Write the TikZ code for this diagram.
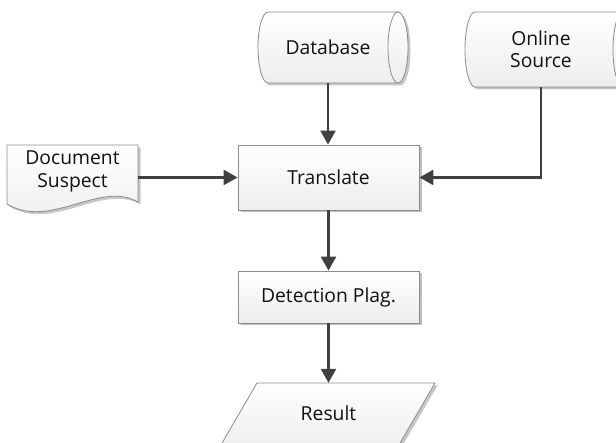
\documentclass[tikz,border=0pt]{standalone}
\usepackage{fontspec}
\setmainfont{Open Sans}
\usetikzlibrary{arrows.meta,shadows}
\definecolor{lineC}{HTML}{404040}
\definecolor{bordC}{HTML}{8C8C8C}
\definecolor{txtC}{HTML}{111111}
\begin{document}
\begin{tikzpicture}[x=1pt,y=-1pt,
  txt/.style={font=\fontsize{19.3}{22.5}\selectfont, text=txtC, align=center, inner sep=0pt},
  shapefill/.style={draw=bordC, line width=0.8pt, top color=white, bottom color=black!7},
  shadowfill/.style={fill=black!22},
  conn/.style={draw=lineC, line width=2.3pt, -{Triangle[length=14pt,width=15pt]}},
  procbox/.style={txt, shapefill, minimum width=181pt,
    drop shadow={shadow xshift=2.5pt, shadow yshift=-2.5pt, fill=black!25, opacity=1}},
  textonly/.style={txt, minimum width=100pt}]
\useasboundingbox (0,0) rectangle (616,443);
\clip (0,0) rectangle (616,443);
\fill[white] (0,0) rectangle (616,443);

% Database cylinder
\fill[shadowfill, xshift=2.5pt, yshift=-2.5pt] (268,12) -- (398,12) arc(-90:90:10 and 35.5) -- (268,83) arc(90:270:10 and 35.5) -- cycle;
\path[shapefill] (268,12) -- (398,12) arc(-90:90:10 and 35.5) -- (268,83) arc(90:270:10 and 35.5) -- cycle;
\draw[bordC, line width=0.8pt] (398,12) arc(-90:-270:10 and 35.5);
\node[textonly, minimum height=71pt] (db) at (328,47.5) {Database};

% Online source cylinder
\fill[shadowfill, xshift=2.5pt, yshift=-2.5pt] (475,12) -- (623,12) arc(-90:90:10 and 37.5) -- (475,87) arc(90:270:10 and 37.5) -- cycle;
\path[shapefill] (475,12) -- (623,12) arc(-90:90:10 and 37.5) -- (475,87) arc(90:270:10 and 37.5) -- cycle;
\draw[bordC, line width=0.8pt] (623,12) arc(-90:-270:10 and 37.5);
\node[textonly, minimum height=75pt] (os) at (541,49.5) {Online\\Source};

% Document shape
\fill[shadowfill, xshift=2.5pt, yshift=-2.5pt] (7,145) -- (138,145) -- (138,202) .. controls (100,180) and (50,230) .. (7,204) -- cycle;
\path[shapefill] (7,145) -- (138,145) -- (138,202) .. controls (100,180) and (50,230) .. (7,204) -- cycle;
\node[txt, minimum width=131pt] (doc) at (72.5,171.5) {Document\\Suspect};

% Process boxes
\node[procbox, minimum height=65pt] (tr) at (328.5,177.5) {Translate};
\node[procbox, minimum height=52pt] (det) at (328.5,297) {Detection Plag.};

% Result parallelogram
\fill[shadowfill, xshift=2.5pt, yshift=-2.5pt] (257,383) -- (435,383) -- (396,450) -- (218,450) -- cycle;
\path[shapefill] (257,383) -- (435,383) -- (396,450) -- (218,450) -- cycle;
\node[textonly, minimum height=60pt] (res) at (328.5,413) {Result};

% Connectors
\draw[conn] (db.south) -- (db.south |- tr.north);
\draw[conn] (os.south) |- (tr.east);
\draw[conn] (doc.east |- tr.west) -- (tr.west);
\draw[conn] (tr.south) -- (det.north);
\draw[conn] (det.south) -- (res.north);
\end{tikzpicture}
\end{document}
